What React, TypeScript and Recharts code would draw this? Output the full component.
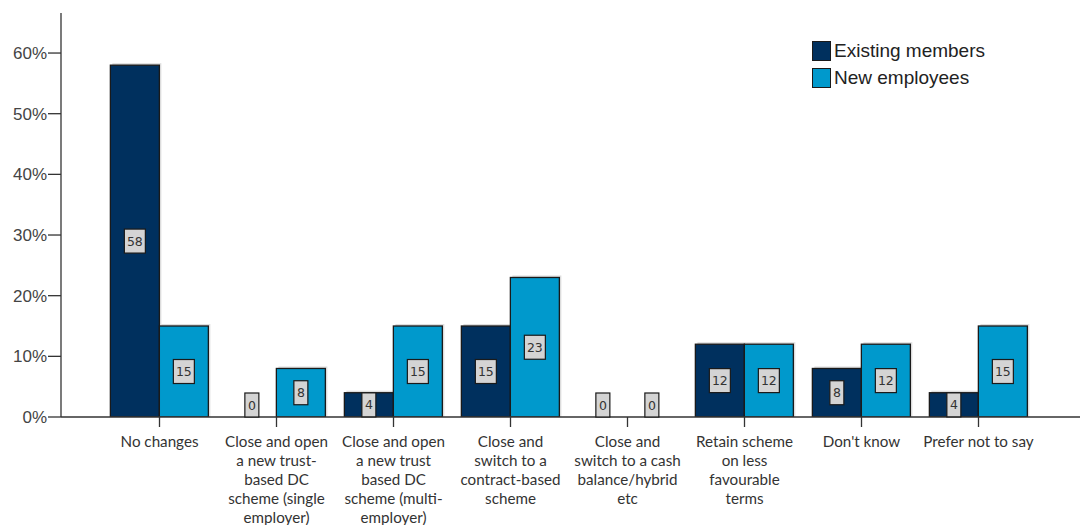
import { BarChart, Bar, XAxis, YAxis, LabelList } from 'recharts';

const categoryLines: string[][] = [
  ['No changes'],
  ['Close and open', 'a new trust-', 'based DC', 'scheme (single', 'employer)'],
  ['Close and open', 'a new trust', 'based DC', 'scheme (multi-', 'employer)'],
  ['Close and', 'switch to a', 'contract-based', 'scheme'],
  ['Close and', 'switch to a cash', 'balance/hybrid', 'etc'],
  ['Retain scheme', 'on less', 'favourable', 'terms'],
  ["Don't know"],
  ['Prefer not to say'],
];
const existingMembers = [58, 0, 4, 15, 0, 12, 8, 4];
const newEmployees = [15, 8, 15, 23, 0, 12, 12, 15];
const yTicks = [0, 10, 20, 30, 40, 50, 60];

const DARK = '#00305e';
const LIGHT = '#0099cc';

const data = categoryLines.map((lines, i) => ({
  name: lines.join(' '),
  existing: existingMembers[i],
  newEmp: newEmployees[i],
}));

const BASELINE = 417;

function ShadowBar(props: any) {
  const { x, y, width, height, fill } = props;
  if (!height || height <= 0) return null;
  return (
    <g>
      <rect x={x + 2} y={y - 2} width={width} height={height + 2} fill="#bdbdbd" opacity={0.5} />
      <rect x={x} y={y} width={width} height={height} fill={fill} stroke="#1a1a1a" strokeWidth={1.3} />
    </g>
  );
}

function ValueBox(props: any) {
  const { x, y, width, height, value } = props;
  const cx = x + width / 2;
  let cy = y + height / 2;
  if (cy > BASELINE - 12) cy = BASELINE - 12;
  const w = String(value).length > 1 ? 21 : 14;
  const h = 24;
  return (
    <g>
      <rect x={cx - w / 2} y={cy - h / 2} width={w} height={h} fill="#d4d4d4" stroke="#1a1a1a" strokeWidth={1.2} />
      <text x={cx} y={cy} textAnchor="middle" dominantBaseline="central" fontSize={12.5} fill="#333" fontFamily="'DejaVu Sans', sans-serif">
        {value}
      </text>
    </g>
  );
}

function CategoryTick(props: any) {
  const { x, y, index } = props;
  const lines = categoryLines[index] || [];
  return (
    <g transform={`translate(${x},${y})`}>
      {lines.map((l, i) => (
        <text key={i} x={0} y={18 + i * 19} textAnchor="middle" fontSize={15.2} fill="#333" fontFamily="Lato, sans-serif">
          {l}
        </text>
      ))}
    </g>
  );
}

function LegendBox() {
  const items = [
    { label: 'Existing members', color: DARK },
    { label: 'New employees', color: LIGHT },
  ];
  return (
    <div style={{ position: 'absolute', left: 812, top: 37, fontFamily: "'Liberation Sans', Arial, sans-serif", fontSize: 19, color: '#222' }}>
      {items.map((it) => (
        <div key={it.label} style={{ display: 'flex', alignItems: 'center', height: 27 }}>
          <span style={{ width: 19, height: 20, background: it.color, border: '1.5px solid #1a1a1a', boxSizing: 'border-box', marginRight: 3 }} />
          <span>{it.label}</span>
        </div>
      ))}
    </div>
  );
}

export default function App() {
  return (
    <div style={{ position: 'absolute', left: 0, top: 0, width: 1080, height: 525, background: '#fff' }}>
      <BarChart
        width={1080}
        height={525}
        data={data}
        margin={{ top: 13, right: 0, bottom: 0, left: 0 }}
        barCategoryGap="8%"
        barGap={0}
      >
        <XAxis
          dataKey="name"
          interval={0}
          height={108}
          padding={{ left: 40, right: 43 }}
          axisLine={{ stroke: '#333', strokeWidth: 1.3 }}
          tickLine={{ stroke: '#333', strokeWidth: 1.3 }}
          tickSize={10}
          tick={<CategoryTick />}
        />
        <YAxis
          width={61}
          domain={[0, 66.6]}
          ticks={yTicks}
          tickFormatter={(v: number) => `${v}%`}
          axisLine={{ stroke: '#333', strokeWidth: 1.3 }}
          tickLine={{ stroke: '#333', strokeWidth: 1.3 }}
          tickSize={13}
          tickMargin={1}
          tick={{ fontSize: 17, fill: '#444', fontFamily: "'Liberation Sans', Arial, sans-serif" }}
          allowDataOverflow
        />
        <Bar dataKey="existing" name="Existing members" fill={DARK} shape={<ShadowBar />} isAnimationActive={false}>
          <LabelList dataKey="existing" content={<ValueBox />} />
        </Bar>
        <Bar dataKey="newEmp" name="New employees" fill={LIGHT} shape={<ShadowBar />} isAnimationActive={false}>
          <LabelList dataKey="newEmp" content={<ValueBox />} />
        </Bar>
      </BarChart>
      <LegendBox />
    </div>
  );
}
